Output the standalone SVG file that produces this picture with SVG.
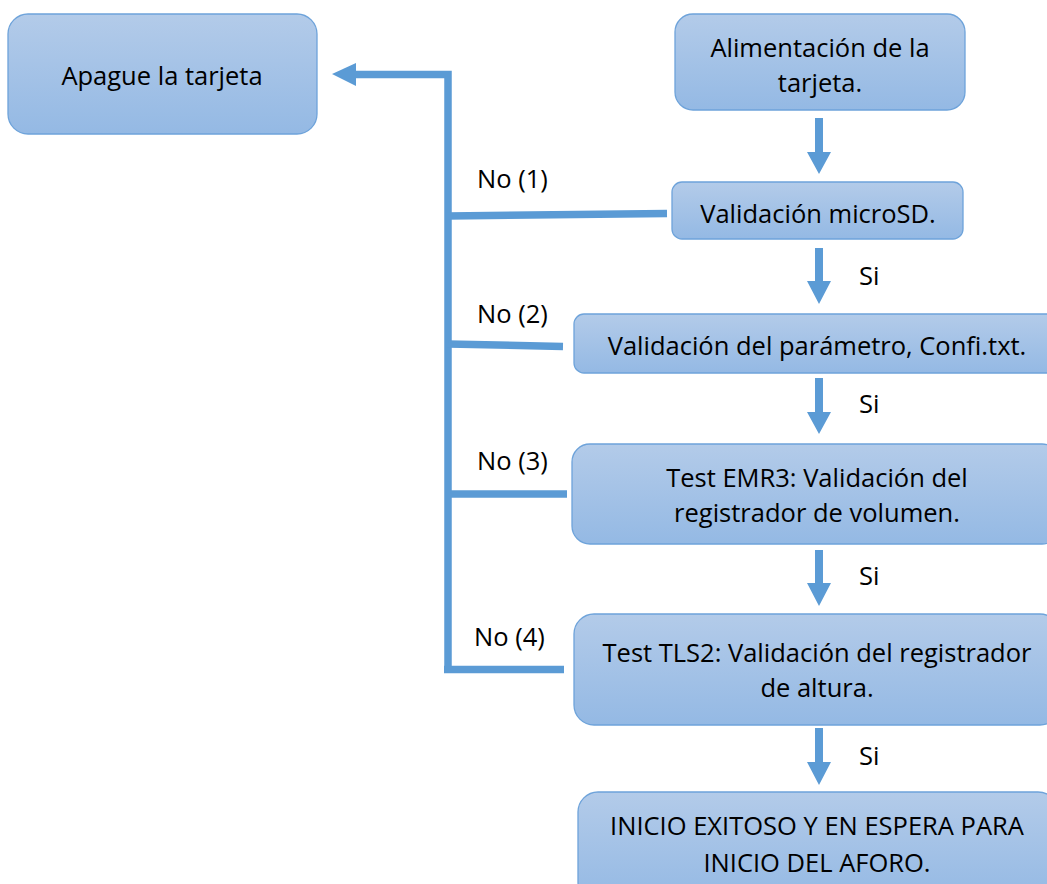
<svg xmlns="http://www.w3.org/2000/svg" width="1047" height="884" viewBox="0 0 1047 884">
<defs>
<linearGradient id="g" x1="0" y1="0" x2="0" y2="1">
<stop offset="0" stop-color="#b3cbe9"/>
<stop offset="1" stop-color="#94b9e4"/>
</linearGradient>
</defs>
<style>
.box{fill:url(#g);stroke:#6ea3da;stroke-width:1.3}
.t{font-family:"Open Sans",sans-serif;font-size:25.5px;fill:#000;text-anchor:middle}
.l{font-family:"Open Sans",sans-serif;font-size:25.5px;fill:#000}
.c{stroke:#5b9bd5;stroke-width:7.5;fill:none}
.a{fill:#5b9bd5}
</style>
<rect width="1047" height="884" fill="#fff"/>
<g id="connectors">
<polyline class="c" points="355,74.5 448,74.5 448,673"/>
<polygon class="a" points="332,74 356,63 356,86"/>
<line class="c" x1="448" y1="216" x2="667" y2="213.5"/>
<line class="c" x1="448" y1="344" x2="563" y2="346.5"/>
<line class="c" x1="448" y1="494" x2="567" y2="494"/>
<line class="c" x1="444" y1="669.5" x2="564" y2="669.5"/>
<path class="a" d="M815,118h8v34h8l-12,22l-12,-22h8z"/>
<path class="a" d="M815,248h8v33h8l-12,23l-12,-23h8z"/>
<path class="a" d="M815,378h8v34h8l-12,22l-12,-22h8z"/>
<path class="a" d="M815,550h8v33h8l-12,23l-12,-23h8z"/>
<path class="a" d="M815,728h8v34h8l-12,23l-12,-23h8z"/>
<text class="l" x="477" y="188">No (1)</text>
<text class="l" x="477" y="323">No (2)</text>
<text class="l" x="477" y="470">No (3)</text>
<text class="l" x="474" y="646">No (4)</text>
<text class="l" x="859" y="285">Si</text>
<text class="l" x="859" y="413">Si</text>
<text class="l" x="859" y="585">Si</text>
<text class="l" x="859" y="765">Si</text>
</g>
<g id="apague">
<rect class="box" x="8" y="14" width="309" height="120" rx="20"/>
<text class="t" x="162" y="85">Apague la tarjeta</text>
</g>
<g id="alimentacion">
<rect class="box" x="675" y="14" width="290" height="96" rx="18"/>
<text class="t" x="820" y="57">Alimentación de la</text>
<text class="t" x="820" y="92">tarjeta.</text>
</g>
<g id="microsd">
<rect class="box" x="672" y="182" width="291" height="57" rx="10"/>
<text class="t" x="818" y="223">Validación microSD.</text>
</g>
<g id="parametro">
<rect class="box" x="574" y="314" width="486" height="59" rx="10"/>
<text class="t" x="817" y="355">Validación del parámetro, Confi.txt.</text>
</g>
<g id="emr3">
<rect class="box" x="572" y="444" width="488" height="100" rx="18"/>
<text class="t" x="817" y="487">Test EMR3: Validación del</text>
<text class="t" x="817" y="522">registrador de volumen.</text>
</g>
<g id="tls2">
<rect class="box" x="574" y="614" width="486" height="111" rx="20"/>
<text class="t" x="817" y="662">Test TLS2: Validación del registrador</text>
<text class="t" x="817" y="697">de altura.</text>
</g>
<g id="inicio">
<rect class="box" x="578" y="792" width="480" height="110" rx="20"/>
<text class="t" x="817" y="835">INICIO EXITOSO Y EN ESPERA PARA</text>
<text class="t" x="817" y="872">INICIO DEL AFORO.</text>
</g>
</svg>
